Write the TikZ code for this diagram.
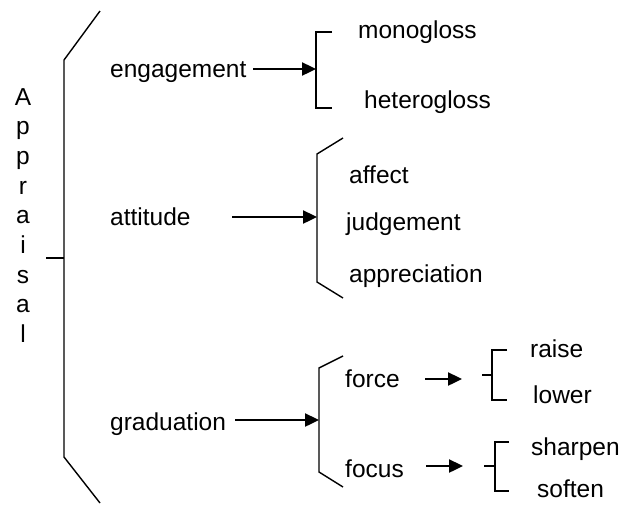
\documentclass[tikz,border=0pt]{standalone}
\usepackage{fontspec}
\setmainfont{Liberation Sans}
\usetikzlibrary{arrows.meta}
\tikzset{
   word/.style={inner sep=0pt, anchor=base west, font=\fontsize{24.5}{29}\selectfont},
   letter/.style={inner sep=0pt, anchor=base, font=\fontsize{24.5}{29}\selectfont},
   brace/.style={draw=black, line width=1.4pt},
   pointer/.style={draw=black, line width=2.4pt,
      -{Triangle[length=14pt,width=13pt]}},
    }
\begin{document}
\begin{tikzpicture}[x=1pt,y=-1pt]
       \useasboundingbox (0,0) rectangle (621,504);
       % Appraisal, one letter per line
       \foreach \ch [count=\k from 0] in {A,p,p,r,a,i,s,a,l}
          \node[letter] (ap\k) at (23,105+29.7*\k) {\ch};
       \draw[brace](100,11)--(64,60)--(64,457)--(100,503);
       \draw[brace](46,258)--(64,258);
       % first level
       \node[word] (eng) at (110,77) {engagement};
       \node[word] (att) at (110,225) {attitude};
       \node[word] (grad) at (110,430) {graduation};
       % engagement
       \draw[brace](332,32)--(316,32)--(316,108)--(332,108);
       \coordinate (engTail) at (253,69);
       \coordinate (engBr) at (316,69);
       \draw[pointer](engTail)to(engBr);
       \node[word] (mono) at (358,38) {monogloss};
       \node[word] (hetero) at (364,108) {heterogloss};
       % attitude
       \draw[brace](343,138)--(317,154)--(317,282)--(343,298);
       \coordinate (attTail) at (232,217);
       \coordinate (attBr) at (317,217);
       \draw[pointer](attTail)to(attBr);
       \node[word] (aff) at (349,183) {affect};
       \node[word] (judg) at (346,230) {judgement};
       \node[word] (appr) at (349,282) {appreciation};
       % graduation
       \draw[brace](343,356)--(319,368)--(319,472)--(343,487);
       \coordinate (gradTail) at (235,420);
       \coordinate (gradBr) at (319,420);
       \draw[pointer](gradTail)to(gradBr);
       \node[word] (force) at (345,387) {force};
       \node[word] (focus) at (345,477) {focus};
       % force
       \coordinate (forceTail) at (425,379);
       \coordinate (forceHead) at (462,379);
       \draw[pointer](forceTail)to(forceHead);
       \draw[brace](507,350)--(492,350)--(492,400)--(507,400);
       \draw[brace](482,375)--(492,375);
       \node[word] (raise) at (530,357) {raise};
       \node[word] (lower) at (533,403) {lower};
       % focus
       \coordinate (focusTail) at (426,466);
       \coordinate (focusHead) at (463,466);
       \draw[pointer](focusTail)to(focusHead);
       \draw[brace](509,442)--(495,442)--(495,491)--(509,491);
       \draw[brace](484,466)--(495,466);
       \node[word] (sharp) at (531,455) {sharpen};
       \node[word] (soft) at (537,497) {soften};
   \end{tikzpicture}
\end{document}
